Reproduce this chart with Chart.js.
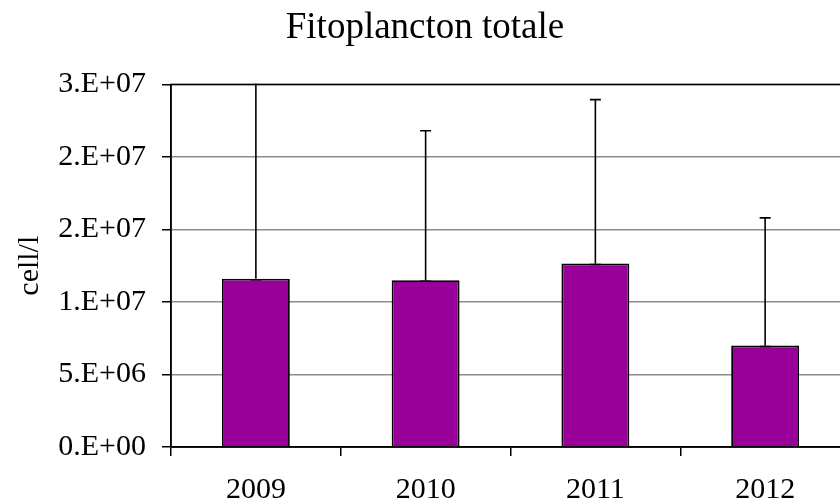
<!DOCTYPE html>
<html>
<head>
<meta charset="utf-8">
<script src="https://cdn.jsdelivr.net/npm/chart.js@4.4.1/dist/chart.umd.min.js"></script>
<style>
  html, body { margin: 0; padding: 0; background: #fff; overflow: hidden; }
  #wrap { width: 850px; height: 504px; }
</style>
</head>
<body>
<div id="wrap"><canvas id="fito_chart" width="850" height="504"></canvas></div>
<script>
// anni e media cellule per litro
var years = ['2009', '2010', '2011', '2012'];
var means = [1.16e7, 1.15e7, 1.265e7, 7.0e6];
// deviazione standard (solo verso l'alto)
var errPlus = [1.6e7, 1.03e7, 1.13e7, 8.8e6];

var serif = "'Liberation Serif', 'Times New Roman', serif";

// formato tipo Excel "0.E+00"
function sciLabel(v) {
   if (v == 0) return '0.E+00';
   var e = Math.floor(Math.log10(v));
   var m = Math.round(v / Math.pow(10, e));
   if (m >= 10) { m = 1; e += 1; }
   return m + '.E+' + String(e).padStart(2, '0');
}

// barre d'errore + bordo del plot
const errorBars = {
   id: 'errorBars',
   beforeDatasetsDraw(chart) {
      const ctx = chart.ctx, a = chart.chartArea;
      ctx.save();
      ctx.strokeStyle = '#000';
      ctx.lineWidth = 1.5;
      ctx.strokeRect(a.left, a.top, a.right - a.left, a.bottom - a.top);
      ctx.restore();
   },
   afterDatasetsDraw(chart) {
      const ctx = chart.ctx, a = chart.chartArea;
      const meta = chart.getDatasetMeta(0);
      const ys = chart.scales.y;
      ctx.save();
      ctx.beginPath();
      ctx.rect(a.left, a.top - 1, a.right - a.left, a.bottom - a.top + 2);
      ctx.clip();
      ctx.strokeStyle = '#000';
      ctx.lineWidth = 1.6;
      meta.data.forEach(function (bar, i) {
         var x = bar.x;
         var y0 = ys.getPixelForValue(means[i]);
         var y1 = ys.getPixelForValue(means[i] + errPlus[i]);
         ctx.beginPath();
         ctx.moveTo(x, y0); ctx.lineTo(x, y1);
         ctx.moveTo(x - 5.5, y1); ctx.lineTo(x + 5.5, y1);
         ctx.moveTo(x - 5.5, y0 + 1); ctx.lineTo(x + 5.5, y0 + 1);
         ctx.stroke();
      });
      ctx.restore();
   }
};

const config = {
   type: 'bar',
   data: {
      labels: years,
      datasets: [{
         data: means,
         backgroundColor: '#990099',
         borderColor: '#000',
         borderWidth: 1.8,
         barPercentage: 0.4,
         categoryPercentage: 1.0
      }]
   },
   options: {
      responsive: false,
      animation: false,
      layout: { padding: 0 },
      plugins: {
         legend: { display: false },
         tooltip: { enabled: false },
         title: {
            display: true,
            text: 'Fitoplancton totale',
            color: '#000',
            font: { family: serif, size: 37, weight: 'normal' },
            padding: { top: 6, bottom: 34 }
         }
      },
      scales: {
         x: {
            grid: { display: true, drawOnChartArea: false, offset: true, color: '#000', tickLength: 9, lineWidth: 1.5 },
            border: { color: '#000', width: 1.5 },
            ticks: { color: '#000', font: { family: serif, size: 30 }, padding: 16, maxRotation: 0 },
            afterFit(scale) { scale.height = 57; }
         },
         y: {
            min: 0,
            max: 2.5e7,
            grid: { color: '#8c8c8c', lineWidth: 1.5, tickLength: 9, tickColor: '#000' },
            border: { color: '#000', width: 1.5 },
            ticks: {
               stepSize: 5e6,
               color: '#000',
               padding: 16,
               font: { family: serif, size: 30 },
               callback: function (v) { return sciLabel(v); }
            },
            title: {
               display: true,
               text: 'cell/l',
               color: '#000',
               font: { family: serif, size: 30 },
               padding: { top: 12, bottom: 0 }
            },
            afterFit(scale) { scale.width = 171; }
         }
      }
   },
   plugins: [errorBars]
};

new Chart(document.getElementById('fito_chart'), config);
</script>
</body>
</html>
